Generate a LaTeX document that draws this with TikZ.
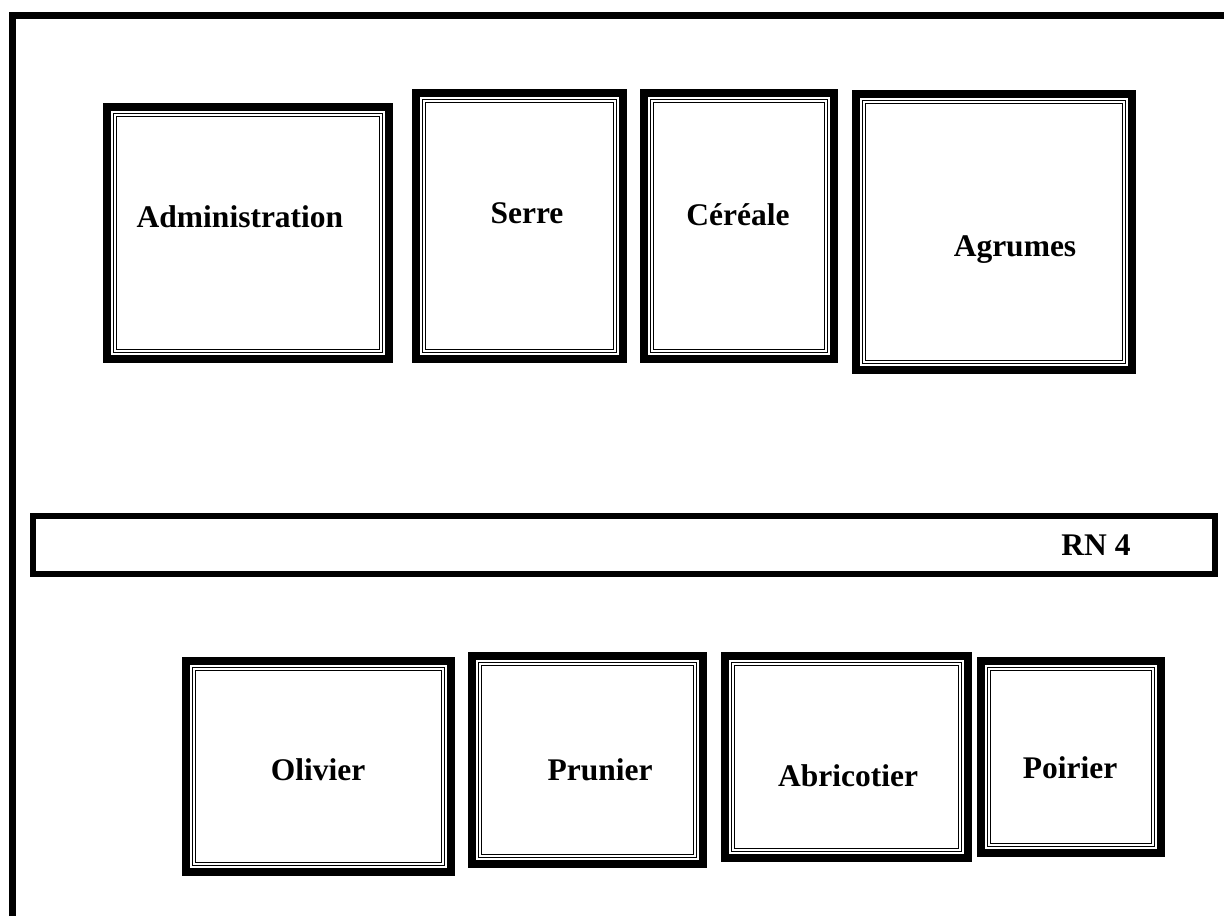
\documentclass[tikz,border=0pt]{standalone}
\usepackage{fontspec}
\setmainfont{Liberation Serif}
\usetikzlibrary{positioning}

\tikzset{
  parcel/.style={draw, line width=8pt, inner sep=0pt, outer sep=0pt},
  parcelin/.style={draw, double, line width=1.3pt, double distance=1.3pt},
  tag/.style={font=\fontsize{31.5}{36}\selectfont\bfseries, inner sep=0pt},
}

\begin{document}
\begin{tikzpicture}[x=1pt,y=-1pt]
    \useasboundingbox (0,0) rectangle (1224,916);
    % outer limit of the site
    \coordinate (frame_sw) at (12.5,916);
    \coordinate (frame_nw) at (12.5,15.5);
    \coordinate (frame_ne) at (1224,15.5);
    \draw[line width=7pt] (frame_sw) -- (frame_nw) -- (frame_ne);

    % upper row
    \node[parcel, minimum width=282pt, minimum height=252pt] (admin) at (248,233) {};
    \node[parcel, minimum width=207pt, minimum height=266pt] (serre) at (519.5,226) {};
    \node[parcel, minimum width=190pt, minimum height=266pt] (cereale) at (739,226) {};
    \node[parcel, minimum width=276pt, minimum height=276pt] (agrumes) at (994,232) {};

    % road
    \node[draw, line width=6pt, inner sep=0pt, minimum width=1182pt, minimum height=58pt] (rn4) at (624,545) {};

    % lower row
    \node[parcel, minimum width=265pt, minimum height=211pt] (olivier) at (318.5,766.5) {};
    \node[parcel, minimum width=231pt, minimum height=208pt] (prunier) at (587.5,760) {};
    \node[parcel, minimum width=243pt, minimum height=202pt] (abricotier) at (846.5,757) {};
    \node[parcel, minimum width=180pt, minimum height=192pt] (poirier) at (1071,757) {};

    \foreach \p in {admin,serre,cereale,agrumes,olivier,prunier,abricotier,poirier}
        \draw[parcelin] ([shift={(8pt,-8pt)}]\p.north west) rectangle ([shift={(-8pt,8pt)}]\p.south east);

    % labels
    \node[tag] (admin_txt) at (240,217) {Administration};
    \node[tag] (serre_txt) at (527,213) {Serre};
    \node[tag] (cereale_txt) at (738,215) {Céréale};
    \node[tag] (agrumes_txt) at (1015,250) {Agrumes};
    \node[tag] (rn4_txt) at (1096,545) {RN 4};
    \node[tag] (olivier_txt) at (318,770) {Olivier};
    \node[tag] (prunier_txt) at (600,770) {Prunier};
    \node[tag] (abricotier_txt) at (848,776) {Abricotier};
    \node[tag] (poirier_txt) at (1070,768) {Poirier};
\end{tikzpicture}
\end{document}
